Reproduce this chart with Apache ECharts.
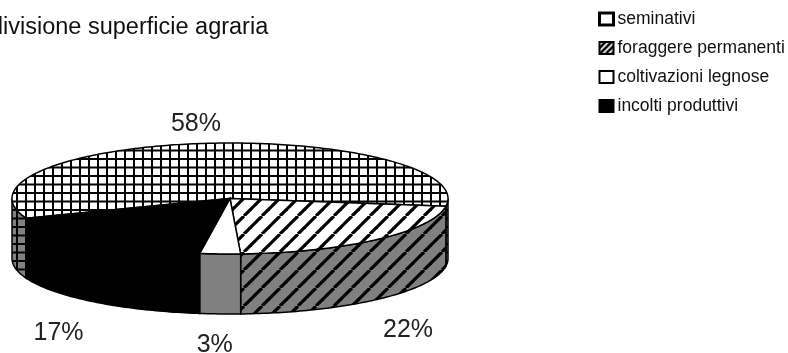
<!DOCTYPE html>
<html><head><meta charset="utf-8">
<style>html,body{margin:0;padding:0;background:#fff}#c{width:788px;height:353px}#c canvas{filter:blur(.4px)}</style>
<script src="https://cdn.jsdelivr.net/npm/echarts@6/dist/echarts.min.js"></script>
</head><body><div id="c"></div>
<script>
const titleText = 'divisione superficie agraria';
const categories = ['seminativi', 'foraggere permanenti', 'coltivazioni legnose', 'incolti produttivi'];
const values = [58, 22, 3, 17];

// pie layout
const CX = 230, CY = 198.5, RX = 218, RY = 55.5, DEPTH = 60;
const END_ANGLE_OF_FIRST = 8; // degrees below horizontal where the first slice ends
const labelRX = 270, labelRY = 95;
const labelNudge = [[-4, 20], [-4, 1], [-3, -8], [-3, 0]];

function tile(w, h, bg, draw) {
  const c = document.createElement('canvas');
  c.width = w; c.height = h;
  const g = c.getContext('2d');
  g.fillStyle = bg; g.fillRect(0, 0, w, h);
  g.strokeStyle = '#000'; g.fillStyle = '#000';
  draw(g);
  return { image: c, repeat: 'repeat' };
}
function grid(bg) {
  return tile(9, 17, bg, g => {
    g.fillRect(7, 0, 2, 17);
    g.fillRect(0, 5, 9, 2);
    g.fillRect(0, 13.5, 9, 2);
  });
}
function diag(bg, phase) {
  return tile(18, 18, bg, g => {
    g.lineWidth = 3.2;
    for (let k = -2; k <= 3; k++) {
      const s = k * 18 + phase;
      g.beginPath(); g.moveTo(s, 0); g.lineTo(s - 18, 18); g.stroke();
    }
  });
}
const topFills = [grid('#fff'), diag('#fff', 10), '#fff', '#000'];
const sideFills = [grid('#808080'), diag('#808080', 10), '#808080', '#000'];
const legendFills = [
  '#fff',
  tile(6, 6, '#fff', g => { g.lineWidth = 2.6; [[7, -1, -1, 7], [13, -1, 5, 7], [1, -1, -7, 7]].forEach(l => { g.beginPath(); g.moveTo(l[0], l[1]); g.lineTo(l[2], l[3]); g.stroke(); }); }),
  '#fff', '#000'
];
const legendBorders = [3, 2, 2, 2];

const total = values.reduce((a, b) => a + b, 0);
const rad = d => d * Math.PI / 180;
const pt = (deg, dy) => [CX + RX * Math.cos(rad(deg)), CY + RY * Math.sin(rad(deg)) + (dy || 0)];
function arc(a, b, dy) {
  const out = [], n = Math.max(2, Math.ceil(Math.abs(b - a)));
  for (let i = 0; i <= n; i++) out.push(pt(a + (b - a) * i / n, dy));
  return out;
}
// slice i spans [start, end] degrees clockwise on screen
function span(i) {
  let before = 0;
  for (let k = 0; k < i; k++) before += values[k];
  const first = values[0] / total * 360;
  const start0 = END_ANGLE_OF_FIRST - first;
  return [start0 + before / total * 360, start0 + (before + values[i]) / total * 360];
}
function renderSlice(params, api) {
  const i = params.seriesIndex, v = api.value(0);
  const [a, b] = span(i);
  const kids = [];
  // visible part of the rim (angles within 0..180, also modulo 360)
  [0, 360, -360].forEach(off => {
    const s = Math.max(a + off, 0), e = Math.min(b + off, 180);
    if (e > s) {
      kids.push({
        type: 'polygon',
        shape: { points: arc(s, e, 0).concat(arc(e, s, DEPTH)) },
        style: { fill: sideFills[i], stroke: '#000', lineWidth: 1.5 }
      });
    }
  });
  kids.push({
    type: 'polygon',
    shape: { points: [[CX, CY]].concat(arc(a, b, 0)) },
    style: { fill: topFills[i], stroke: '#000', lineWidth: 1.5 }
  });
  const mid = rad((a + b) / 2), sn = Math.sin(mid);
  const n = labelNudge[i];
  kids.push({
    type: 'text',
    z2: 10,
    style: {
      x: CX + labelRX * Math.cos(mid) + n[0],
      y: CY + labelRY * sn + (sn > 0 ? DEPTH : 0) + n[1],
      text: v + '%', fill: '#222',
      font: '25px "Liberation Sans", Arial, sans-serif',
      textAlign: 'center', textVerticalAlign: 'middle'
    }
  });
  return { type: 'group', children: kids };
}
const chart = echarts.init(document.getElementById('c'), null, { renderer: 'canvas' });
chart.setOption({
  animation: false,
  backgroundColor: '#fff',
  title: {
    text: titleText, left: -10, top: 16, padding: 0,
    textStyle: { fontFamily: '"Liberation Sans", Arial, sans-serif', fontWeight: 'normal', fontSize: 23.5, color: '#111' }
  },
  legend: {
    orient: 'vertical', left: 598, top: 10, padding: 0, itemWidth: 14, itemHeight: 12, itemGap: 11,
    selectedMode: false,
    textStyle: { fontFamily: '"Liberation Sans", Arial, sans-serif', fontSize: 17.5, lineHeight: 18, color: '#111', padding: [0, 0, 0, -1] },
    data: categories.map((name, i) => ({
      name, icon: 'rect',
      itemStyle: { color: legendFills[i], borderColor: '#000', borderWidth: legendBorders[i] }
    }))
  },
  series: categories.map((name, i) => ({
    type: 'custom', name, coordinateSystem: 'none', silent: true,
    itemStyle: { color: '#000' },
    renderItem: renderSlice,
    data: [[values[i]]]
  }))
});
</script></body></html>
